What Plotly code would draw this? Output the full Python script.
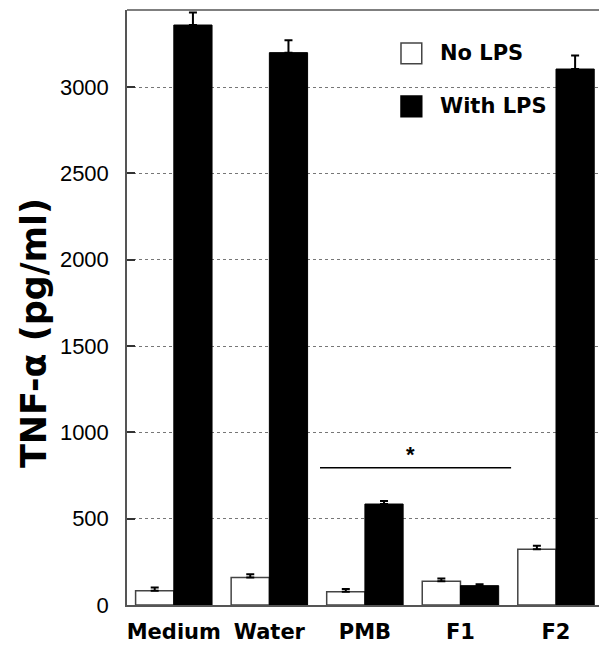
import plotly.graph_objects as go

categories = ["Medium", "Water", "PMB", "F1", "F2"]
no_lps = [83, 160, 77, 137, 323]
no_lps_err = [18, 18, 15, 17, 20]
with_lps = [3360, 3200, 585, 112, 3105]
with_lps_err = [72, 72, 18, 8, 78]
zeros = [0, 0, 0, 0, 0]

y_ticks = [0, 500, 1000, 1500, 2000, 2500, 3000]
y_title = "<b>TNF-α (pg/ml)</b>"
sig_y = 795

BOLD = "DejaVu Sans"

fig = go.Figure()
fig.add_trace(go.Bar(
    x=categories, y=no_lps, name="No LPS",
    marker=dict(color="white", line=dict(color="#444444", width=1.5)),
    error_y=dict(type="data", array=no_lps_err, arrayminus=zeros, symmetric=False,
                 color="black", thickness=2, width=4),
    showlegend=False,
))
fig.add_trace(go.Bar(
    x=categories, y=with_lps, name="With LPS",
    marker=dict(color="black", line=dict(color="black", width=1)),
    error_y=dict(type="data", array=with_lps_err, arrayminus=zeros, symmetric=False,
                 color="black", thickness=2, width=4),
    showlegend=False,
))

# significance line
fig.add_shape(type="line", xref="x", yref="y", x0=1.53, x1=3.53, y0=sig_y, y1=sig_y,
              line=dict(color="black", width=1.3))
fig.add_annotation(x=2.48, y=sig_y, xref="x", yref="y", text="<b>*</b>", showarrow=False,
                   yanchor="bottom", yshift=-1, font=dict(family="Arial", size=22, color="black"))

# legend background covering gridlines
fig.add_shape(type="rect", xref="paper", yref="paper", x0=0.532, x1=0.83, y0=0.80, y1=0.975,
              fillcolor="white", line=dict(width=0), layer="between")
# legend squares
fig.add_shape(type="rect", xref="paper", yref="paper", x0=0.5805, x1=0.6245, y0=0.9095, y1=0.9445,
              fillcolor="white", line=dict(color="#444444", width=1.5))
fig.add_shape(type="rect", xref="paper", yref="paper", x0=0.5805, x1=0.6245, y0=0.8205, y1=0.8555,
              fillcolor="black", line=dict(color="black", width=1.5))
fig.add_annotation(x=0.659, y=0.9277, xref="paper", yref="paper", text="<b>No LPS</b>",
                   showarrow=False, xanchor="left", yanchor="middle",
                   font=dict(family=BOLD, size=21, color="black"))
fig.add_annotation(x=0.659, y=0.8387, xref="paper", yref="paper", text="<b>With LPS</b>",
                   showarrow=False, xanchor="left", yanchor="middle",
                   font=dict(family=BOLD, size=21, color="black"))

# y-axis title
fig.add_annotation(x=-0.197, y=0.457, xref="paper", yref="paper", text=y_title,
                   showarrow=False, textangle=-90, xanchor="center", yanchor="middle",
                   font=dict(family=BOLD, size=35, color="black"))

fig.update_layout(
    width=599, height=649,
    margin=dict(l=127, r=0, t=10, b=44),
    paper_bgcolor="white", plot_bgcolor="white",
    barmode="group", bargap=0.2, bargroupgap=0,
    font=dict(family="Arial", color="black"),
)
fig.update_xaxes(
    range=[-0.49, 4.45], showgrid=False, ticks="",
    showline=True, linecolor="#555555", linewidth=1.5, mirror=False,
    tickfont=dict(family=BOLD, size=21, color="black"),
    tickprefix="<b>", ticksuffix="</b>", ticklabelstandoff=7,
)
fig.update_yaxes(
    range=[0, 3447], tickvals=y_ticks, ticks="inside", ticklen=8, tickcolor="#333333",
    tickwidth=1.5,
    showline=True, linecolor="#555555", linewidth=1.5,
    showgrid=True, gridcolor="#777777", gridwidth=1, griddash="dot",
    zeroline=False, ticklabelstandoff=12,
    tickfont=dict(family="Arial", size=22, color="black"),
)
# top border
fig.add_shape(type="line", xref="paper", yref="paper", x0=0, x1=1, y0=1, y1=1,
              line=dict(color="#555555", width=1.5))

fig.write_html("out.html")
